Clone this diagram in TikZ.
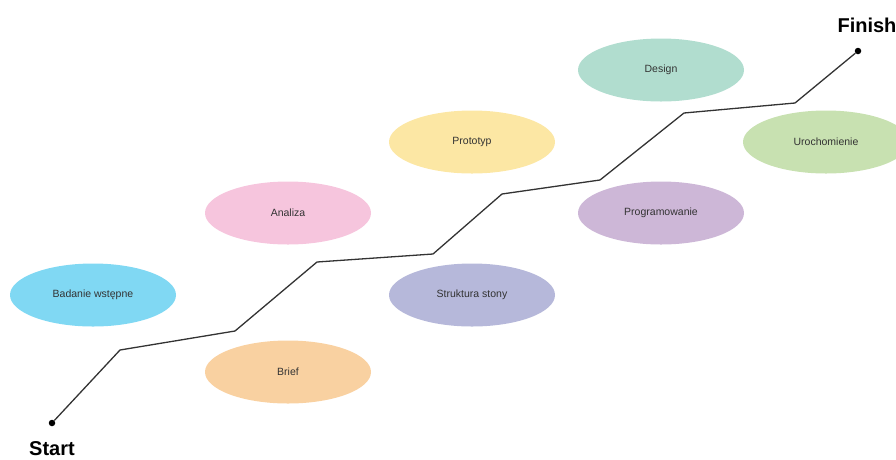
\documentclass[tikz,border=0pt]{standalone}
\usepackage{fontspec}
\setmainfont{Liberation Sans}
\usepackage{xcolor}
\usetikzlibrary{positioning,shapes.geometric}

\definecolor{cBadanie}{HTML}{80D8F3}
\definecolor{cBrief}{HTML}{F9D1A1}
\definecolor{cAnaliza}{HTML}{F6C5DD}
\definecolor{cStruktura}{HTML}{B6B8DA}
\definecolor{cPrototyp}{HTML}{FCE7A4}
\definecolor{cProgram}{HTML}{CDB7D7}
\definecolor{cDesign}{HTML}{B1DDCF}
\definecolor{cUruch}{HTML}{C8E1B1}
\definecolor{ink}{HTML}{333333}

\begin{document}
\begin{tikzpicture}[x=1pt,y=-1pt,
  phase/.style={ellipse,minimum width=166pt,minimum height=63pt,inner sep=0pt,
    font=\fontsize{10.5}{12}\selectfont,text=ink},
  dot/.style={circle,fill=black,inner sep=0pt,minimum size=6.5pt},
  endlabel/.style={font=\fontsize{20}{24}\selectfont\bfseries,inner sep=0pt},
  track/.style={draw=ink,line width=1.3pt,line join=round}]
\useasboundingbox (0,0) rectangle (896,459);
% phases
\node[phase,fill=cBadanie] (bad) at (93,295) {Badanie wstępne};
\node[phase,fill=cBrief] (brief) at (288,372) {Brief};
\node[phase,fill=cAnaliza] (ana) at (288,213) {Analiza};
\node[phase,fill=cStruktura] (str) at (472,295) {Struktura stony};
\node[phase,fill=cPrototyp] (proto) at (472,142) {Prototyp};
\node[phase,fill=cProgram] (prog) at (661,213) {Programowanie};
\node[phase,fill=cDesign] (des) at (661,70) {Design};
\node[phase,fill=cUruch] (uruch) at (826,142) {Urochomienie};
% track
\node[dot] (start) at (52,423) {};
\node[dot] (finish) at (858,51) {};
\coordinate (k1) at (120,350);
\coordinate (k2) at (235,331);
\coordinate (k3) at (317,262);
\coordinate (k4) at (433,254);
\coordinate (k5) at (502,194);
\coordinate (k6) at (600,180);
\coordinate (k7) at (684,113);
\coordinate (k8) at (795,103);
\draw[track] (start) -- (k1) -- (k2) -- (k3) -- (k4) -- (k5) -- (k6) -- (k7) -- (k8) -- (finish);
\node[endlabel,anchor=north] (startlbl) at (52,441) {Start};
\node[endlabel,anchor=south] (finishlbl) at (867,33) {Finish};
\end{tikzpicture}
\end{document}
